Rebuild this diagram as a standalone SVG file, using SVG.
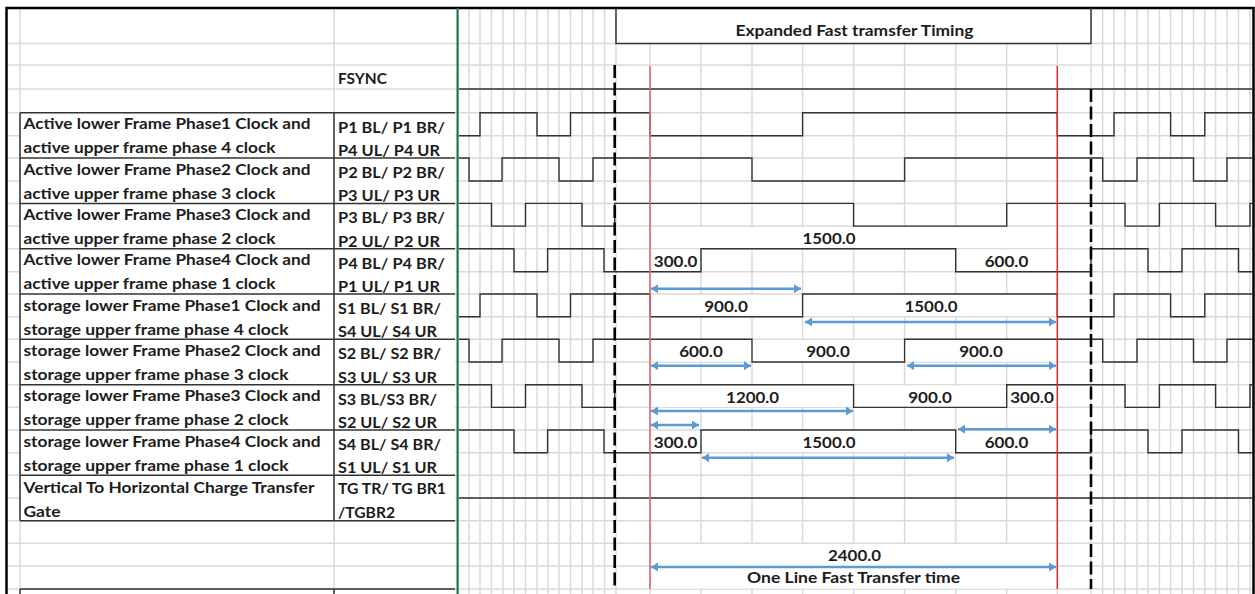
<svg xmlns="http://www.w3.org/2000/svg" width="1255" height="594" viewBox="0 0 1255 594">
<style>
.g{stroke:#dadada;stroke-width:1.5;fill:none}
.t{stroke:#333;stroke-width:1.5;fill:none}
.s{stroke:#333;stroke-width:1.4;fill:none}
.d{stroke:#000;stroke-width:2.6;stroke-dasharray:13 4.5;fill:none}
.a{stroke:#5b9bd5;stroke-width:2.6;fill:none;marker-start:url(#ah);marker-end:url(#ah)}
text{font-family:Lato,"Liberation Sans",sans-serif;font-weight:700;font-size:16px;fill:#1c1c1c}
.m{text-anchor:middle}
</style>
<defs>
<marker id="ah" markerUnits="userSpaceOnUse" markerWidth="8" markerHeight="10" refX="7" refY="4.5" orient="auto-start-reverse"><path d="M0 0L7 4.5L0 9z" fill="#5b9bd5"/></marker>
</defs>
<rect width="1255" height="594" fill="#fff"/>
<g id="grid">
<path class="g" d="M7 43.5H1253M7 65H1253M7 89H1253M7 112.7H1253M7 135.7H1253M7 158H1253M7 181H1253M7 203.4H1253M7 226H1253M7 248.7H1253M7 271.7H1253M7 294H1253M7 316.7H1253M7 339.3H1253M7 362H1253M7 384.7H1253M7 407.3H1253M7 430H1253M7 452.7H1253M7 475.3H1253M7 498H1253M7 520.7H1253M7 543.3H1253M7 566H1253M7 589H1253"/>
<path class="g" d="M20 8V594M334 8V594M469 8V594M480 8V594M491.5 8V594M503 8V594M514 8V594M525.5 8V594M537 8V594M548 8V594M559 8V594M570.5 8V594M582 8V594M593 8V594M604.5 8V594M616 8V594M650 43.5V594M701 43.5V594M752 43.5V594M802.6 43.5V594M853.6 43.5V594M904.6 43.5V594M955.7 43.5V594M1006.7 43.5V594M1057.3 43.5V594M1091 8V594M1102.7 8V594M1114 8V594M1125 8V594M1137 8V594M1148 8V594M1159.4 8V594M1170.6 8V594M1182 8V594M1193.5 8V594M1204.8 8V594M1215.6 8V594M1227 8V594M1238.5 8V594M1250 8V594"/>
<path fill="#fff" d="M21 113H455V520H21zM616 9H1091V43H616zM651 227H1056V248H651zM651 249.5H700V271H651zM957 249.5H1056V271H957zM651 295H1056V316H651zM651 340H1056V361.5H651zM651 385.5H1056V407H651zM651 431H1056V452H651zM1007.6 498.8H1056V520H1007.6zM651 544H1056V588.5H651z"/>
</g>
<g id="frame">
<path d="M6.5 600V8H1253.5V600" fill="none" stroke="#000" stroke-width="2.5"/>
<path d="M457.6 8V594" fill="none" stroke="#217346" stroke-width="2.2"/>
</g>
<g id="table-lines">
<path class="t" d="M20 112.7H455M20 158H455M20 203.4H455M20 248.7H455M20 294H455M20 339.3H455M20 384.7H455M20 430H455M20 475.3H455M20 520.7H455M20 589H455M20 112.7V520.7M334 112.7V520.7M20 589V594M334 589V594"/>
</g>
<g id="header"><path class="t" d="M616 8V43.5H1091V8"/><text x="854.5" y="35.5" class="m" textLength="238" lengthAdjust="spacingAndGlyphs">Expanded Fast tramsfer Timing</text></g>
<g id="fsync"><text x="338" y="84" textLength="49" lengthAdjust="spacingAndGlyphs">FSYNC</text><path class="s" d="M459 89H1252"/></g>
<g id="p1"><text x="23.5" y="129.3" textLength="287" lengthAdjust="spacingAndGlyphs">Active lower Frame Phase1 Clock and</text><text x="23.5" y="153.3" textLength="252" lengthAdjust="spacingAndGlyphs">active upper frame phase 4 clock</text><text x="338" y="132.7" textLength="107" lengthAdjust="spacingAndGlyphs">P1 BL/ P1 BR/</text><text x="338" y="156" textLength="102" lengthAdjust="spacingAndGlyphs">P4 UL/ P4 UR</text></g>
<g id="p2"><text x="23.5" y="174.6" textLength="287" lengthAdjust="spacingAndGlyphs">Active lower Frame Phase2 Clock and</text><text x="23.5" y="198.6" textLength="252" lengthAdjust="spacingAndGlyphs">active upper frame phase 3 clock</text><text x="338" y="178" textLength="107" lengthAdjust="spacingAndGlyphs">P2 BL/ P2 BR/</text><text x="338" y="201.3" textLength="102" lengthAdjust="spacingAndGlyphs">P3 UL/ P3 UR</text></g>
<g id="p3"><text x="23.5" y="220" textLength="287" lengthAdjust="spacingAndGlyphs">Active lower Frame Phase3 Clock and</text><text x="23.5" y="244" textLength="252" lengthAdjust="spacingAndGlyphs">active upper frame phase 2 clock</text><text x="338" y="223.4" textLength="107" lengthAdjust="spacingAndGlyphs">P3 BL/ P3 BR/</text><text x="338" y="246.7" textLength="102" lengthAdjust="spacingAndGlyphs">P2 UL/ P2 UR</text></g>
<g id="p4"><text x="23.5" y="265.3" textLength="287" lengthAdjust="spacingAndGlyphs">Active lower Frame Phase4 Clock and</text><text x="23.5" y="289.3" textLength="252" lengthAdjust="spacingAndGlyphs">active upper frame phase 1 clock</text><text x="338" y="268.7" textLength="107" lengthAdjust="spacingAndGlyphs">P4 BL/ P4 BR/</text><text x="338" y="292" textLength="102" lengthAdjust="spacingAndGlyphs">P1 UL/ P1 UR</text></g>
<g id="s1"><text x="23.5" y="310.7" textLength="297" lengthAdjust="spacingAndGlyphs">storage lower Frame Phase1 Clock and</text><text x="23.5" y="334.7" textLength="265" lengthAdjust="spacingAndGlyphs">storage upper frame phase 4 clock</text><text x="338" y="314" textLength="103" lengthAdjust="spacingAndGlyphs">S1 BL/ S1 BR/</text><text x="338" y="337.3" textLength="99" lengthAdjust="spacingAndGlyphs">S4 UL/ S4 UR</text></g>
<g id="s2"><text x="23.5" y="356" textLength="297" lengthAdjust="spacingAndGlyphs">storage lower Frame Phase2 Clock and</text><text x="23.5" y="380" textLength="265" lengthAdjust="spacingAndGlyphs">storage upper frame phase 3 clock</text><text x="338" y="359.3" textLength="103" lengthAdjust="spacingAndGlyphs">S2 BL/ S2 BR/</text><text x="338" y="382.7" textLength="99" lengthAdjust="spacingAndGlyphs">S3 UL/ S3 UR</text></g>
<g id="s3"><text x="23.5" y="401.3" textLength="297" lengthAdjust="spacingAndGlyphs">storage lower Frame Phase3 Clock and</text><text x="23.5" y="425.3" textLength="265" lengthAdjust="spacingAndGlyphs">storage upper frame phase 2 clock</text><text x="338" y="404.7" textLength="99" lengthAdjust="spacingAndGlyphs">S3 BL/S3 BR/</text><text x="338" y="428" textLength="99" lengthAdjust="spacingAndGlyphs">S2 UL/ S2 UR</text></g>
<g id="s4"><text x="23.5" y="446.7" textLength="297" lengthAdjust="spacingAndGlyphs">storage lower Frame Phase4 Clock and</text><text x="23.5" y="470.7" textLength="265" lengthAdjust="spacingAndGlyphs">storage upper frame phase 1 clock</text><text x="338" y="450" textLength="103" lengthAdjust="spacingAndGlyphs">S4 BL/ S4 BR/</text><text x="338" y="473.3" textLength="99" lengthAdjust="spacingAndGlyphs">S1 UL/ S1 UR</text></g>
<g id="tg"><text x="23.5" y="493" textLength="291" lengthAdjust="spacingAndGlyphs">Vertical To Horizontal Charge Transfer</text><text x="23.5" y="517" textLength="37" lengthAdjust="spacingAndGlyphs">Gate</text><text x="338" y="494.3" textLength="108" lengthAdjust="spacingAndGlyphs">TG TR/ TG BR1</text><text x="338" y="518.3" textLength="57" lengthAdjust="spacingAndGlyphs">/TGBR2</text><path class="s" d="M459 498H1252"/></g>
<g id="connectors">
<path class="s" d="M459 135.7H480v-23H537v23H570.5v-23H650v23H802.6v-23H1057.3v23H1114v-23H1170.6v23H1204.8v-23H1252"/>
<path class="s" d="M459 158H469v23H502v-23H559v23H593v-23H752v23H904.6v-23H1102.7v23H1137v-23H1193.5v23H1227v-23H1252"/>
<path class="s" d="M459 203.4H491.5v22.7H525.5v-22.7H582v22.7H614.7v-22.7H853.6v22.7H1006.7v-22.7H1125v22.7H1159.4v-22.7H1215.6v22.7H1250v-22.7H1252"/>
<path class="s" d="M459 248.7H514v23H547.6v-23H604v23H701v-23H955.7v23H1091v-23H1148v23H1182v-23H1238.5v23H1252"/>
<path class="s" d="M459 316.7H480v-22.7H537v22.7H570.5v-22.7H650v22.7H802.6v-22.7H1057.3v22.7H1114v-22.7H1170.6v22.7H1204.8v-22.7H1252"/>
<path class="s" d="M459 339.3H469v22.7H502v-22.7H559v22.7H593v-22.7H752v22.7H904.6v-22.7H1102.7v22.7H1137v-22.7H1193.5v22.7H1227v-22.7H1252"/>
<path class="s" d="M459 384.7H491.5v22.7H525.5v-22.7H582v22.7H614.7v-22.7H853.6v22.7H1006.7v-22.7H1125v22.7H1159.4v-22.7H1215.6v22.7H1250v-22.7H1252"/>
<path class="s" d="M459 430H514v22.7H547.6v-22.7H604v22.7H701v-22.7H955.7v22.7H1091v-22.7H1148v22.7H1182v-22.7H1238.5v22.7H1252"/>
<path class="d" d="M614.7 65V589"/>
<path class="d" d="M1091 89V589"/>
<path d="M650 66V589" fill="none" stroke="#dc6a70" stroke-width="1.6"/>
<path d="M1057.3 66V589" fill="none" stroke="#ee2222" stroke-width="1.4"/>
<path class="a" d="M651 288.7H801"/>
<path class="a" d="M805 322H1056"/>
<path class="a" d="M651 365.7H751"/>
<path class="a" d="M907 365.7H1056"/>
<path class="a" d="M651 411H853"/>
<path class="a" d="M651 425H699"/>
<path class="a" d="M958 429.3H1056"/>
<path class="a" d="M702 457.7H954"/>
<path class="a" d="M651 567H1056"/>
</g>
<g id="values">
<text x="829" y="244.3" class="m" textLength="53" lengthAdjust="spacingAndGlyphs">1500.0</text>
<text x="675.6" y="266.7" class="m" textLength="43.5" lengthAdjust="spacingAndGlyphs">300.0</text>
<text x="1006.5" y="266.7" class="m" textLength="43.5" lengthAdjust="spacingAndGlyphs">600.0</text>
<text x="726" y="311.7" class="m" textLength="43.5" lengthAdjust="spacingAndGlyphs">900.0</text>
<text x="931" y="311.7" class="m" textLength="53" lengthAdjust="spacingAndGlyphs">1500.0</text>
<text x="701" y="357.3" class="m" textLength="43.5" lengthAdjust="spacingAndGlyphs">600.0</text>
<text x="828" y="357.3" class="m" textLength="43.5" lengthAdjust="spacingAndGlyphs">900.0</text>
<text x="981" y="357.3" class="m" textLength="43.5" lengthAdjust="spacingAndGlyphs">900.0</text>
<text x="752.6" y="402.7" class="m" textLength="53" lengthAdjust="spacingAndGlyphs">1200.0</text>
<text x="930" y="402.7" class="m" textLength="43.5" lengthAdjust="spacingAndGlyphs">900.0</text>
<text x="1032" y="402.7" class="m" textLength="43.5" lengthAdjust="spacingAndGlyphs">300.0</text>
<text x="675.6" y="448" class="m" textLength="43.5" lengthAdjust="spacingAndGlyphs">300.0</text>
<text x="829" y="448" class="m" textLength="53" lengthAdjust="spacingAndGlyphs">1500.0</text>
<text x="1006.5" y="448" class="m" textLength="43.5" lengthAdjust="spacingAndGlyphs">600.0</text>
<text x="854.5" y="561.3" class="m" textLength="53" lengthAdjust="spacingAndGlyphs">2400.0</text>
<text x="853.5" y="583.3" class="m" textLength="213" lengthAdjust="spacingAndGlyphs">One Line Fast Transfer time</text>
</g>
</svg>
